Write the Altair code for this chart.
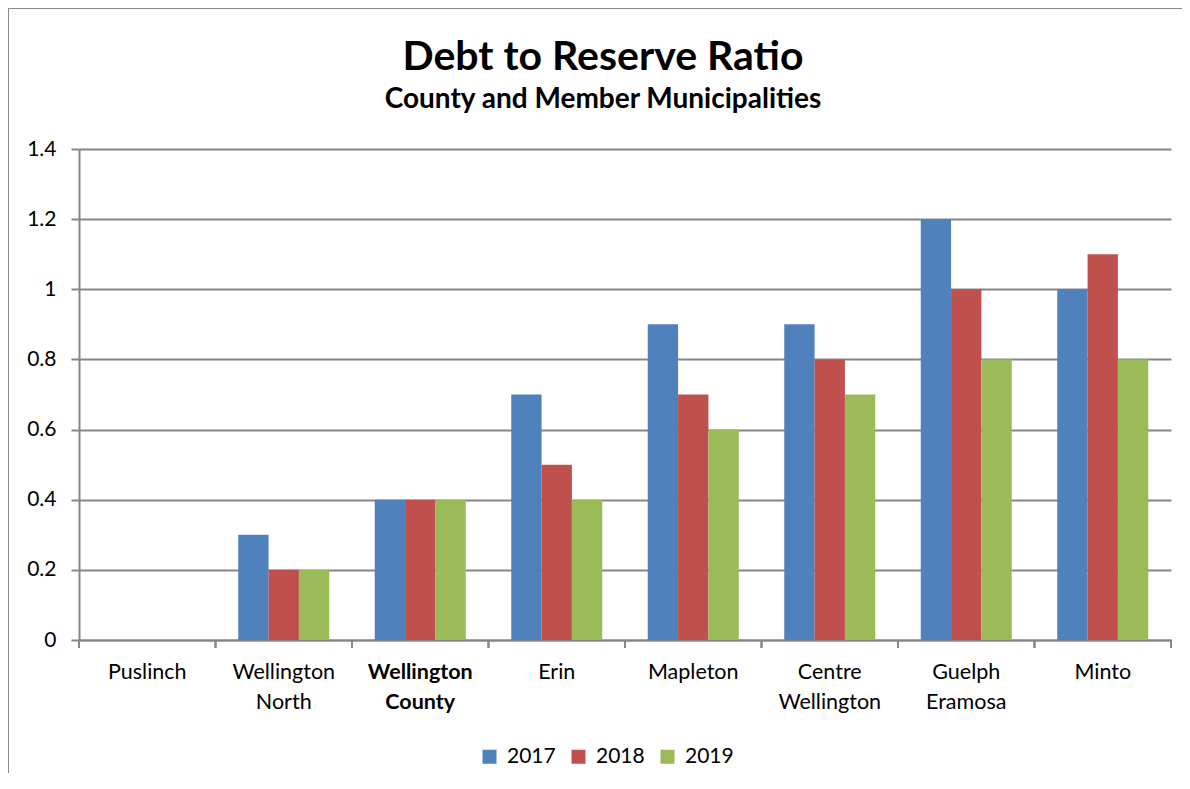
import altair as alt
import pandas as pd

categories = ["Puslinch", "Wellington North", "Wellington County", "Erin",
              "Mapleton", "Centre Wellington", "Guelph Eramosa", "Minto"]
years = ["2017", "2018", "2019"]
v2017 = [0, 0.3, 0.4, 0.7, 0.9, 0.9, 1.2, 1.0]
v2018 = [0, 0.2, 0.4, 0.5, 0.7, 0.8, 1.0, 1.1]
v2019 = [0, 0.2, 0.4, 0.4, 0.6, 0.7, 0.8, 0.8]
y_ticks = [0, 0.2, 0.4, 0.6, 0.8, 1.0, 1.2, 1.4]
colors = ["#4F81BD", "#C0504D", "#9BBB59"]
title_text = ["Debt to Reserve Ratio"]
subtitle_text = ["County and Member Municipalities"]

rows = []
for yr, vals in zip(years, [v2017, v2018, v2019]):
    for c, v in zip(categories, vals):
        rows.append({"cat": c, "year": yr, "value": v})
df = pd.DataFrame(rows)

W, H = 1092, 491
FONT = "Lato"
GRAY = "#868686"

xscale = alt.Scale(domain=categories, paddingInner=0, paddingOuter=0)

bars = alt.Chart(df).mark_bar().encode(
    x=alt.X("cat:N", scale=xscale, sort=categories, title=None,
            axis=alt.Axis(labelExpr="split(datum.label, ' ')", labelAngle=0,
                          ticks=False, domain=True, domainColor=GRAY, domainWidth=2,
                          labelPadding=21, labelFontSize=21.5, labelLineHeight=30,
                          labelColor="#000", labelFont=FONT,
                          labelFontWeight=alt.condition("datum.value == 'Wellington County'",
                                                        alt.value("bold"), alt.value("normal")))),
    xOffset=alt.XOffset("year:N", sort=years,
                        scale=alt.Scale(paddingInner=0, paddingOuter=0.75)),
    y=alt.Y("value:Q", scale=alt.Scale(domain=[0, 1.4]), title=None,
            axis=alt.Axis(values=y_ticks, format="~g", grid=True, gridColor=GRAY,
                          gridWidth=2, tickColor=GRAY, tickWidth=2, tickSize=8,
                          domainColor=GRAY, domainWidth=2, labelPadding=15,
                          labelFontSize=21, labelColor="#000", labelFont=FONT)),
    color=alt.Color("year:N", scale=alt.Scale(domain=years, range=colors),
                    legend=alt.Legend(title=None, orient="none", direction="horizontal",
                                      legendX=400, legendY=597, symbolType="square",
                                      symbolSize=196, symbolStrokeWidth=0,
                                      labelFontSize=21, labelFont=FONT, labelColor="#000",
                                      labelOffset=7, columnPadding=12)),
)

tick_df = pd.DataFrame({"cat": categories})
ticks0 = alt.Chart(tick_df).mark_rule(color=GRAY, strokeWidth=2).encode(
    x=alt.X("cat:N", bandPosition=0, scale=xscale, sort=categories),
    y=alt.value(H), y2=alt.value(H + 8))
ticks1 = alt.Chart(tick_df).mark_rule(color=GRAY, strokeWidth=2).encode(
    x=alt.X("cat:N", bandPosition=1, scale=xscale, sort=categories),
    y=alt.value(H), y2=alt.value(H + 8))

border = alt.Chart(alt.Data(values=[{}])).mark_rect(
    fill=None, stroke="#8a8a8a", strokeWidth=2).encode(
    x=alt.value(-71), x2=alt.value(W + 80), y=alt.value(-141), y2=alt.value(H + 300))

title_mark = alt.Chart(pd.DataFrame({"t": title_text})).mark_text(
    font=FONT, fontSize=41, fontWeight="bold", color="#000",
    align="center", baseline="alphabetic").encode(
    text="t:N", x=alt.value(524), y=alt.value(-79))
subtitle_mark = alt.Chart(pd.DataFrame({"t": subtitle_text})).mark_text(
    font=FONT, fontSize=28, fontWeight="bold", color="#000",
    align="center", baseline="alphabetic").encode(
    text="t:N", x=alt.value(524), y=alt.value(-41))

chart = alt.layer(border, title_mark, subtitle_mark, bars, ticks0, ticks1).properties(
    width=W, height=H,
    autosize=alt.AutoSizeParams(type="none"),
    padding={"left": 71, "top": 141, "right": 11, "bottom": 133},
    background="white",
).configure_view(stroke=None)

chart.save("out.html", embed_options={"renderer": "svg", "actions": False})
